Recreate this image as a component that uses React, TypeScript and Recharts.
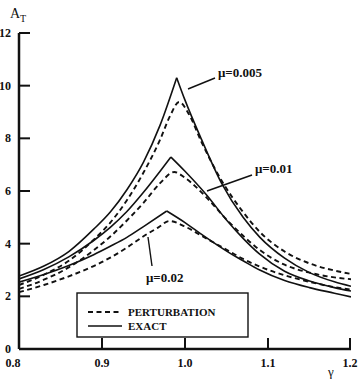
import { Line, LineChart, XAxis, YAxis } from "recharts"

const xTicks = [0.8, 0.9, 1.0, 1.1, 1.2]
const yTicks = [0, 2, 4, 6, 8, 10, 12]

// mu = 0.005
const exact005 = [
  { g: 0.8, a: 2.77 }, { g: 0.83, a: 3.15 }, { g: 0.86, a: 3.7 }, { g: 0.89, a: 4.55 },
  { g: 0.91, a: 5.2 }, { g: 0.93, a: 6.05 }, { g: 0.95, a: 7.1 }, { g: 0.97, a: 8.5 },
  { g: 0.99, a: 10.3 }, { g: 1.0, a: 9.45 }, { g: 1.02, a: 7.95 }, { g: 1.044, a: 6.3 },
  { g: 1.07, a: 5.0 }, { g: 1.09, a: 4.25 }, { g: 1.12, a: 3.45 }, { g: 1.15, a: 2.9 },
  { g: 1.18, a: 2.55 }, { g: 1.2, a: 2.38 },
]
const pert005 = [
  { g: 0.8, a: 2.43 }, { g: 0.83, a: 2.82 }, { g: 0.86, a: 3.35 }, { g: 0.89, a: 4.15 },
  { g: 0.91, a: 4.8 }, { g: 0.93, a: 5.65 }, { g: 0.95, a: 6.7 }, { g: 0.97, a: 7.95 },
  { g: 0.982, a: 8.85 }, { g: 0.993, a: 9.38 }, { g: 1.005, a: 8.9 }, { g: 1.02, a: 7.85 },
  { g: 1.044, a: 6.4 }, { g: 1.07, a: 5.2 }, { g: 1.09, a: 4.45 }, { g: 1.12, a: 3.7 },
  { g: 1.15, a: 3.25 }, { g: 1.18, a: 2.98 }, { g: 1.2, a: 2.85 },
]

// mu = 0.01
const exact01 = [
  { g: 0.8, a: 2.66 }, { g: 0.83, a: 3.02 }, { g: 0.86, a: 3.5 }, { g: 0.89, a: 4.12 },
  { g: 0.91, a: 4.62 }, { g: 0.93, a: 5.22 }, { g: 0.95, a: 5.95 }, { g: 0.97, a: 6.75 },
  { g: 0.983, a: 7.29 }, { g: 1.0, a: 6.75 }, { g: 1.026, a: 5.85 }, { g: 1.05, a: 4.9 },
  { g: 1.07, a: 4.2 }, { g: 1.09, a: 3.6 }, { g: 1.12, a: 2.95 }, { g: 1.15, a: 2.58 },
  { g: 1.18, a: 2.33 }, { g: 1.2, a: 2.2 },
]
const pert01 = [
  { g: 0.8, a: 2.28 }, { g: 0.83, a: 2.63 }, { g: 0.86, a: 3.1 }, { g: 0.89, a: 3.75 },
  { g: 0.91, a: 4.27 }, { g: 0.93, a: 4.88 }, { g: 0.95, a: 5.55 }, { g: 0.97, a: 6.3 },
  { g: 0.987, a: 6.72 }, { g: 1.0, a: 6.5 }, { g: 1.026, a: 5.75 }, { g: 1.05, a: 4.92 },
  { g: 1.07, a: 4.3 }, { g: 1.09, a: 3.76 }, { g: 1.12, a: 3.2 }, { g: 1.15, a: 2.9 },
  { g: 1.18, a: 2.72 }, { g: 1.2, a: 2.65 },
]

// mu = 0.02
const exact02 = [
  { g: 0.8, a: 2.54 }, { g: 0.83, a: 2.83 }, { g: 0.86, a: 3.17 }, { g: 0.89, a: 3.58 },
  { g: 0.91, a: 3.9 }, { g: 0.93, a: 4.24 }, { g: 0.95, a: 4.65 }, { g: 0.978, a: 5.24 },
  { g: 1.0, a: 4.8 }, { g: 1.02, a: 4.35 }, { g: 1.054, a: 3.64 }, { g: 1.07, a: 3.35 },
  { g: 1.09, a: 3.0 }, { g: 1.12, a: 2.6 }, { g: 1.15, a: 2.33 }, { g: 1.18, a: 2.12 },
  { g: 1.2, a: 1.98 },
]
const pert02 = [
  { g: 0.8, a: 2.16 }, { g: 0.83, a: 2.43 }, { g: 0.86, a: 2.76 }, { g: 0.89, a: 3.15 },
  { g: 0.91, a: 3.47 }, { g: 0.93, a: 3.85 }, { g: 0.95, a: 4.28 }, { g: 0.968, a: 4.62 },
  { g: 0.981, a: 4.86 }, { g: 1.0, a: 4.65 }, { g: 1.02, a: 4.3 }, { g: 1.054, a: 3.7 },
  { g: 1.07, a: 3.42 }, { g: 1.09, a: 3.13 }, { g: 1.12, a: 2.8 }, { g: 1.15, a: 2.55 },
  { g: 1.18, a: 2.35 }, { g: 1.2, a: 2.25 },
]

const exactSeries = [exact005, exact01, exact02]
const pertSeries = [pert005, pert01, pert02]

// exact curves have a sharp cusp at the resonance, so draw each side separately
const branches = (d: { g: number; a: number }[]) => {
  let k = 0
  d.forEach((p, i) => {
    if (p.a > d[k].a) k = i
  })
  return [d.slice(0, k + 1), d.slice(k)]
}

const font = "'Liberation Serif', 'Times New Roman', serif"
const ink = "#111"

const BottomTick = (props: any) => {
  const { x, y, payload, index } = props
  const shift = index === 0 ? -6 : 0
  return (
    <g>
      <line x1={x} x2={x} y1={y} y2={y - 11} stroke={ink} strokeWidth={2} />
      <text x={x + shift} y={y + 18} textAnchor="middle" fontFamily={font} fontWeight="bold" fontSize={12} fill={ink}>
        {payload.value.toFixed(1)}
      </text>
    </g>
  )
}

const TopTick = (props: any) => {
  const { x, y } = props
  return <line x1={x} x2={x} y1={y} y2={y + 9} stroke={ink} strokeWidth={2} />
}

const LeftTick = (props: any) => {
  const { x, y, payload } = props
  return (
    <g>
      <line x1={x} x2={x + 11} y1={y} y2={y} stroke={ink} strokeWidth={2} />
      <text x={x - 8} y={y + 4} textAnchor="end" fontFamily={font} fontWeight="bold" fontSize={12} fill={ink}>
        {payload.value}
      </text>
    </g>
  )
}

const RightTick = (props: any) => {
  const { x, y } = props
  return <line x1={x} x2={x - 10} y1={y} y2={y} stroke={ink} strokeWidth={2} />
}

export default function App() {
  return (
    <div style={{ position: "absolute", left: 0, top: 0, width: 360, height: 379, background: "#fff" }}>
      <LineChart width={360} height={379} margin={{ top: 33, right: 9, bottom: 0, left: 0 }}>
        <XAxis
          dataKey="g"
          type="number"
          domain={[0.8, 1.2]}
          ticks={xTicks}
          height={30}
          tickSize={0}
          tickMargin={0}
          tick={<BottomTick />}
          axisLine={{ stroke: ink, strokeWidth: 2.5 }}
          allowDataOverflow
        />
        <XAxis
          xAxisId="top"
          orientation="top"
          type="number"
          domain={[0.8, 1.2]}
          ticks={[0.9, 1.0, 1.1]}
          height={0}
          tickSize={0}
          tickMargin={0}
          tick={<TopTick />}
          axisLine={{ stroke: ink, strokeWidth: 2.5 }}
        />
        <YAxis
          type="number"
          domain={[0, 12]}
          ticks={yTicks}
          width={19}
          tickSize={0}
          tickMargin={0}
          tick={<LeftTick />}
          axisLine={{ stroke: ink, strokeWidth: 2.5 }}
          allowDataOverflow
        />
        <YAxis
          yAxisId="r"
          orientation="right"
          type="number"
          domain={[0, 12]}
          ticks={[2, 4, 6, 8, 10]}
          width={0}
          tickSize={0}
          tickMargin={0}
          tick={<RightTick />}
          axisLine={{ stroke: ink, strokeWidth: 2.5 }}
        />
        {exactSeries.flatMap((d, i) =>
          branches(d).map((b, j) => (
            <Line
              key={"e" + i + "-" + j}
              data={b}
              dataKey="a"
              type="monotone"
              stroke={ink}
              strokeWidth={1.6}
              dot={false}
              isAnimationActive={false}
            />
          ))
        )}
        {pertSeries.map((d, i) => (
          <Line
            key={"p" + i}
            data={d}
            dataKey="a"
            type="monotone"
            stroke={ink}
            strokeWidth={1.9}
            strokeDasharray="5 3.5"
            dot={false}
            isAnimationActive={false}
          />
        ))}
      </LineChart>
      <svg
        width={360}
        height={379}
        style={{ position: "absolute", left: 0, top: 0, pointerEvents: "none" }}
        fontFamily={font}
        fill={ink}
      >
        <text x={10} y={18} fontSize={14}>A</text>
        <text x={20} y={22} fontSize={10}>T</text>
        <text x={328} y={376} fontSize={13}>γ</text>

        <line x1={188} y1={89} x2={215} y2={78} stroke={ink} strokeWidth={1.4} />
        <text x={218} y={77} fontSize={13} fontWeight="bold">μ=0.005</text>
        <line x1={207} y1={191} x2={252} y2={175} stroke={ink} strokeWidth={1.4} />
        <text x={255} y={173} fontSize={13} fontWeight="bold">μ=0.01</text>
        <line x1={148} y1={237} x2={152} y2={266} stroke={ink} strokeWidth={1.4} />
        <text x={146} y={282} fontSize={13} fontWeight="bold">μ=0.02</text>

        <rect x={77} y={293} width={171} height={44} fill="#fff" stroke={ink} strokeWidth={1.4} />
        <line x1={88} x2={122} y1={312} y2={312} stroke={ink} strokeWidth={1.9} strokeDasharray="5 3.5" />
        <text x={128} y={316} fontSize={11} fontWeight="bold">PERTURBATION</text>
        <line x1={88} x2={122} y1={326} y2={326} stroke={ink} strokeWidth={1.6} />
        <text x={128} y={330} fontSize={11} fontWeight="bold">EXACT</text>
      </svg>
    </div>
  )
}
